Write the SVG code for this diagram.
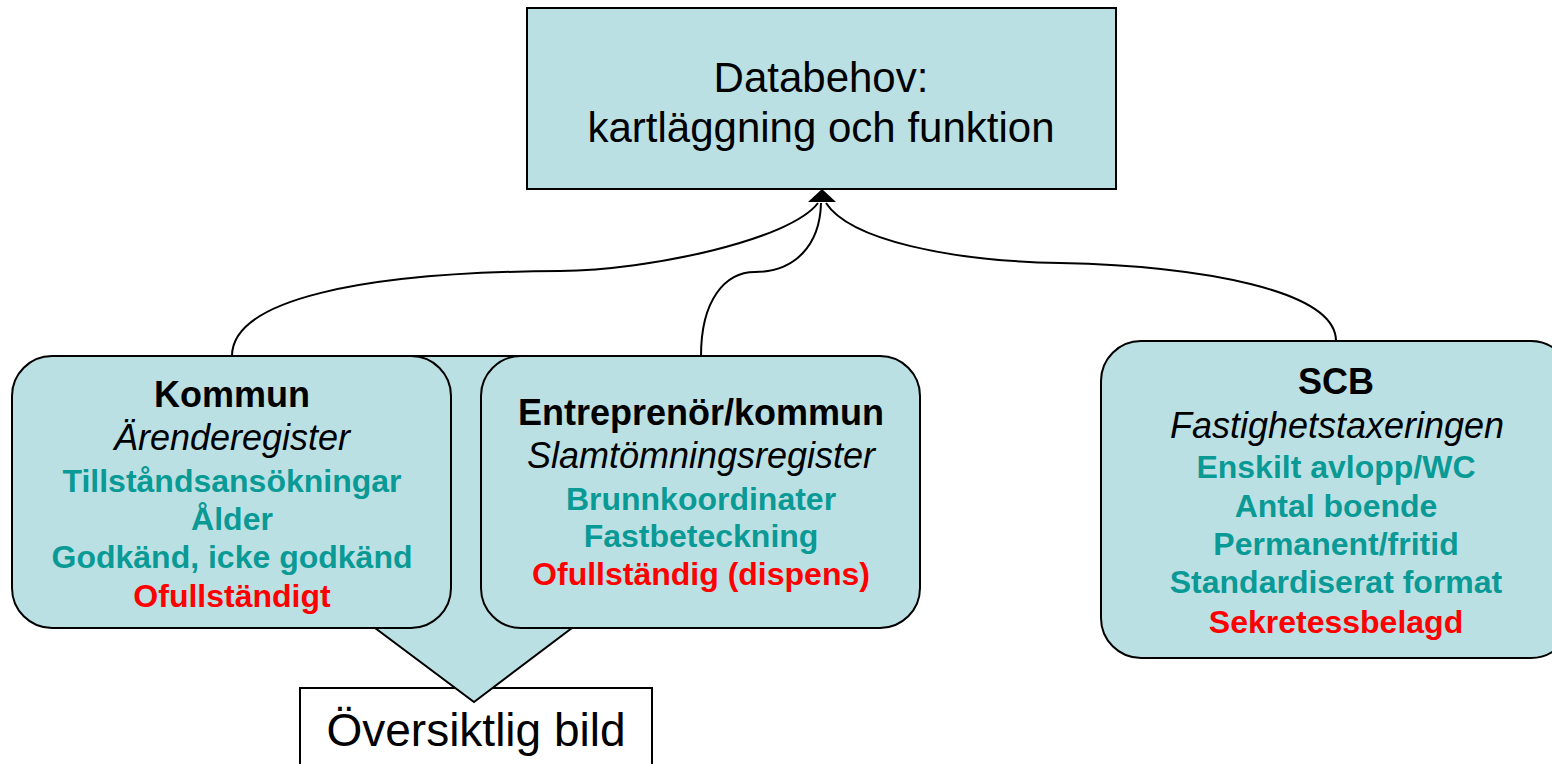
<svg xmlns="http://www.w3.org/2000/svg" width="1552" height="764" viewBox="0 0 1552 764">
<defs>
<style>
.box{fill:#BBE0E3;stroke:#000;stroke-width:2}
.wbox{fill:#fff;stroke:#000;stroke-width:2}
.conn{fill:none;stroke:#000;stroke-width:2}
text{font-family:"Liberation Sans",Arial,sans-serif;text-anchor:middle}
.big{font-size:42px;fill:#000}
.ov{font-size:46px;fill:#000}
.hd{font-size:36px;font-weight:bold;fill:#000}
.it{font-size:36px;font-style:italic;fill:#000}
.tl{font-size:32px;font-weight:bold;fill:#0A9A96}
.rd{font-size:32px;font-weight:bold;fill:#FF0000}
</style>
</defs>
<rect width="1552" height="764" fill="#fff"/>
<g id="connectors">
<path class="conn" d="M232,356 C232,300 360,272 560,271 C650,270 790,240 818,203"/>
<path class="conn" d="M701,356 C701,300 725,272 755,272 C795,272 820,245 821,203"/>
<path class="conn" d="M1336,341 C1336,290 1200,266 1060,263 C950,261 850,240 826,203"/>
<polygon points="822,189 836,202 808,202" fill="#000"/>
</g>
<g id="top">
<rect class="box" x="527" y="8" width="589" height="181"/>
<text class="big" x="821" y="92">Databehov:</text>
<text class="big" x="821" y="142">kartläggning och funktion</text>
</g>
<g id="oversikt">
<rect class="wbox" x="300" y="688" width="352" height="100"/>
<text class="ov" x="476" y="746">Översiktlig bild</text>
</g>
<g id="callout">
<path class="box" d="M360,356 H588 V628 H572 L474,702 L375,628 H360 Z"/>
</g>
<g id="kommun">
<rect class="box" x="12" y="356" width="439" height="272" rx="40" ry="40"/>
<text class="hd" x="232" y="407">Kommun</text>
<text class="it" x="232" y="450">Ärenderegister</text>
<text class="tl" x="232" y="492">Tillståndsansökningar</text>
<text class="tl" x="232" y="530">Ålder</text>
<text class="tl" x="232" y="568">Godkänd, icke godkänd</text>
<text class="rd" x="232" y="607">Ofullständigt</text>
</g>
<g id="entreprenor">
<rect class="box" x="481" y="356" width="439" height="272" rx="40" ry="40"/>
<text class="hd" x="701" y="425">Entreprenör/kommun</text>
<text class="it" x="701" y="468">Slamtömningsregister</text>
<text class="tl" x="701" y="510">Brunnkoordinater</text>
<text class="tl" x="701" y="547">Fastbeteckning</text>
<text class="rd" x="701" y="585">Ofullständig (dispens)</text>
</g>
<g id="scb">
<rect class="box" x="1101" y="341" width="470" height="317" rx="40" ry="40"/>
<text class="hd" x="1336" y="394">SCB</text>
<text class="it" x="1337" y="438">Fastighetstaxeringen</text>
<text class="tl" x="1336" y="478">Enskilt avlopp/WC</text>
<text class="tl" x="1336" y="517">Antal boende</text>
<text class="tl" x="1336" y="555">Permanent/fritid</text>
<text class="tl" x="1336" y="593">Standardiserat format</text>
<text class="rd" x="1336" y="633">Sekretessbelagd</text>
</g>
</svg>
